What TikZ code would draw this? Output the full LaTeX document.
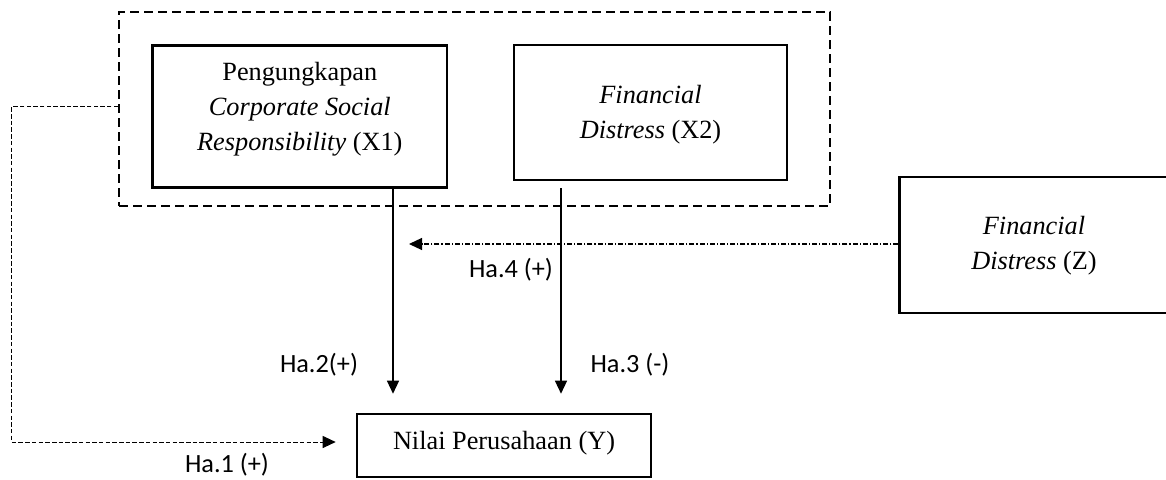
\documentclass[tikz,border=0pt]{standalone}
\usepackage{fontspec}
\setmainfont{Liberation Serif}
\newfontfamily\calibri{Carlito}
\usetikzlibrary{arrows.meta}
\begin{document}
\begin{tikzpicture}[x=1pt,y=-1pt,
  box/.style={draw, line width=2.6pt, inner sep=0pt},
  grpbox/.style={draw, line width=1.8pt, dash pattern=on 9pt off 5pt, inner sep=0pt},
  txt/.style={font=\fontsize{26.3}{35}\selectfont, align=center, inner sep=0pt},
  lab/.style={font=\calibri\fontsize{26.3}{30}\selectfont, inner sep=0pt},
  tipstyle/.style={-{Triangle[length=13pt,width=12pt]}},
  arr/.style={tipstyle, line width=1.3pt},
  dasharr/.style={tipstyle, line width=1pt, dash pattern=on 4.5pt off 2.2pt},
  dotarr/.style={tipstyle, line width=1.2pt, dash pattern=on 5pt off 2pt on 1.2pt off 2pt},
]
\useasboundingbox (0,0) rectangle (1166,479);

% group box
\node[grpbox, minimum width=711pt, minimum height=193.7pt] (grp) at (474.5,108.8) {};

% boxes
\node[box, minimum width=294.5pt, minimum height=142pt] (x1) at (299.8,116.7) {};
\node[box, minimum width=273pt, minimum height=135pt] (x2) at (650.5,112.5) {};
\node[box, minimum width=280.4pt, minimum height=136pt] (z) at (1039.8,245) {};
\node[box, minimum width=294pt, minimum height=63pt] (ny) at (504,445.5) {};

% texts
\node[txt] (x1t) at (299.8,109) {Pengungkapan\\\textit{Corporate Social}\\\textit{Responsibility} (X1)};
\node[txt] (x2t) at (650.5,115) {\textit{Financial}\\\textit{Distress} (X2)};
\node[txt] (zt) at (1034,246) {\textit{Financial}\\\textit{Distress} (Z)};
\node[txt] (nyt) at (504,443) {Nilai Perusahaan (Y)};

% helper coordinates
\coordinate (c1) at (393,0);
\coordinate (c2) at (561,0);
\coordinate (m) at (409,244);
\coordinate (h1) at (11.5,106.7);
\coordinate (h2) at (11.5,442);

% connectors
\draw[arr, shorten >=19pt] (x1.south -| c1) -- (ny.north -| c1);
\draw[arr, shorten <=7pt, shorten >=19pt] (x2.south -| c2) -- (ny.north -| c2);
\draw[dotarr] (z.west |- m) -- (m);
\draw[dasharr, shorten >=20pt] (grp.west |- h1) -- (h1) -- (h2) -- (ny.west |- h2);

% labels
\node[lab] (l2) at (319,365) {Ha.2(+)};
\node[lab] (l3) at (630,365) {Ha.3 (-)};
\node[lab] (l4) at (511,270) {Ha.4 (+)};
\node[lab] (l1) at (227,465) {Ha.1 (+)};
\end{tikzpicture}
\end{document}
